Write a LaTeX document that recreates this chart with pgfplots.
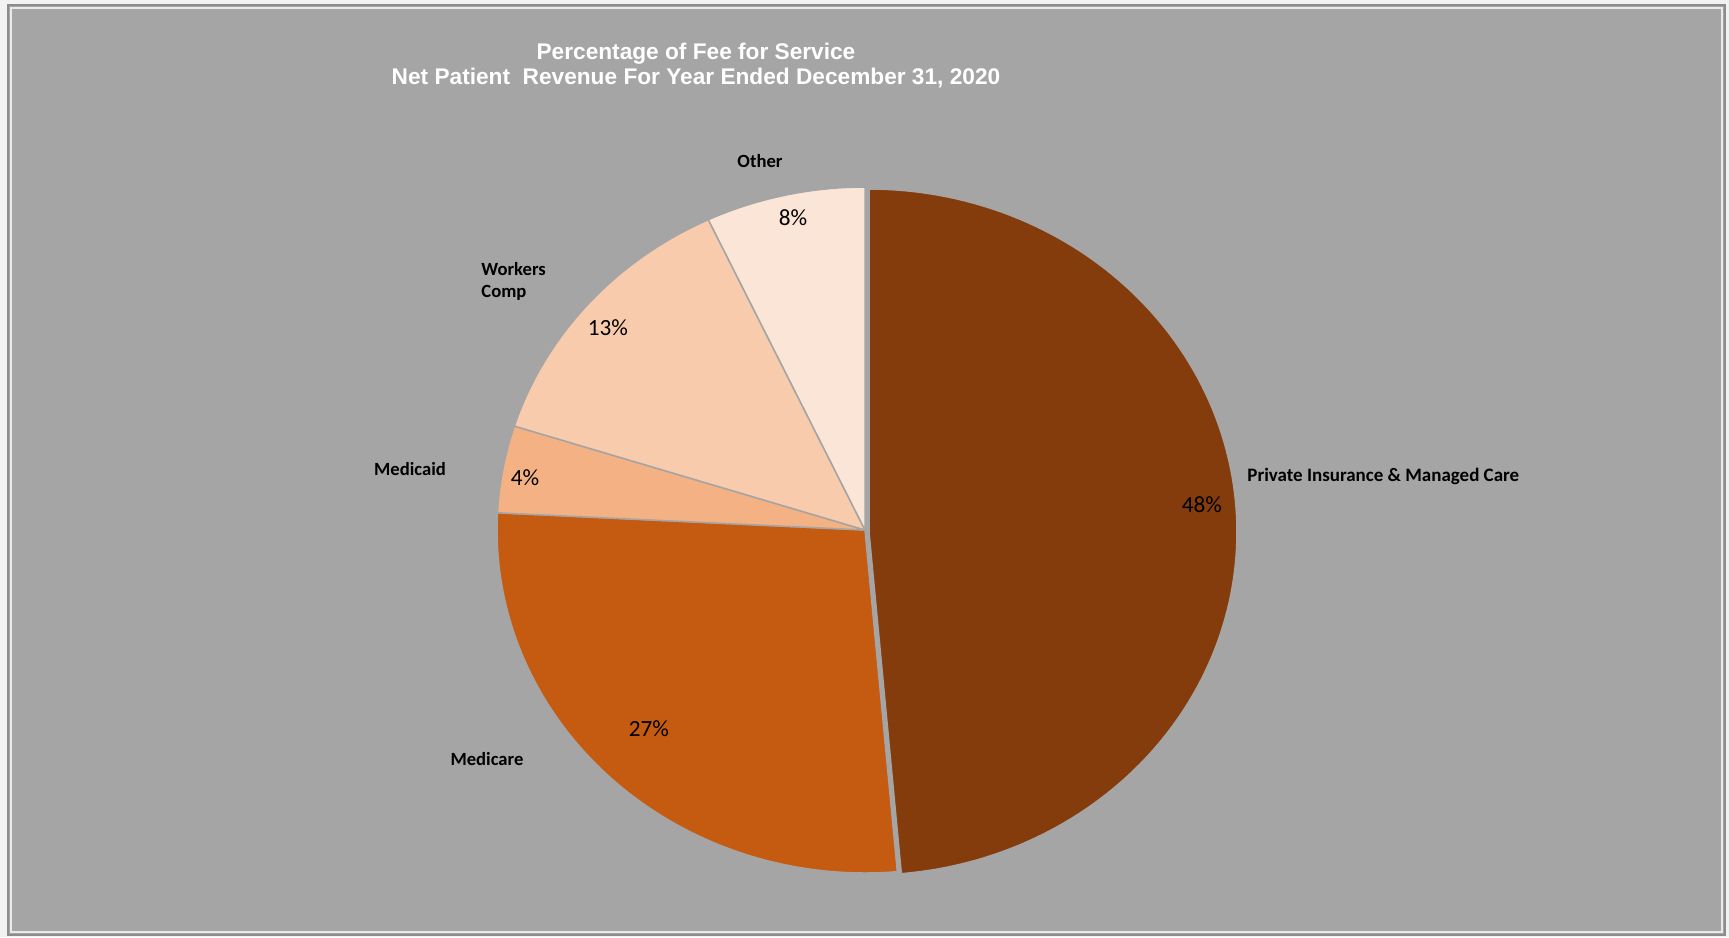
\documentclass[border=0pt]{standalone}
\usepackage{pgfplots}
\pgfplotsset{compat=1.18}
\usepackage{pgfplotstable}
\usepackage{fontspec}
\setmainfont{Carlito}
\newfontfamily\titlefont{Liberation Sans}
\definecolor{bg}{HTML}{A5A5A5}
\definecolor{outer}{HTML}{F2F2F2}
\definecolor{frame}{HTML}{8C8C8C}
\definecolor{cPriv}{HTML}{843C0C}
\definecolor{cMcare}{HTML}{C55A11}
\definecolor{cMcaid}{HTML}{F4B183}
\definecolor{cWork}{HTML}{F8CBAD}
\definecolor{cOther}{HTML}{FBE5D6}

\pgfplotstableread{
label value
Private 48.6
Medicare 27.2
Medicaid 4.1
Workers 13.1
Other 7.0
}\piedata
\pgfplotstablegetelem{0}{value}\of\piedata \let\vA\pgfplotsretval
\pgfplotstablegetelem{1}{value}\of\piedata \let\vB\pgfplotsretval
\pgfplotstablegetelem{2}{value}\of\piedata \let\vC\pgfplotsretval
\pgfplotstablegetelem{3}{value}\of\piedata \let\vD\pgfplotsretval
\pgfplotstablegetelem{4}{value}\of\piedata \let\vE\pgfplotsretval
\pgfmathsetmacro\aA{90}
\pgfmathsetmacro\aB{\aA-3.6*\vA}
\pgfmathsetmacro\aC{\aB-3.6*\vB}
\pgfmathsetmacro\aD{\aC-3.6*\vC}
\pgfmathsetmacro\aE{\aD-3.6*\vD}
\pgfmathsetmacro\aF{\aE-3.6*\vE}
\def\cx{865}\def\cy{530}\def\rx{368}\def\ry{343}
\def\ex{4}\def\ey{2}
\pgfmathsetmacro\pcx{\cx+\ex}
\pgfmathsetmacro\pcy{\cy+\ey}

\begin{document}
\begin{tikzpicture}
\begin{axis}[
  width=17.29cm, height=9.37cm, scale only axis,
  xmin=0, xmax=1729, ymin=0, ymax=937, y dir=reverse,
  hide axis, clip=false,
]
\fill[outer] (0,0) rectangle (1729,937);
\fill[bg, draw=frame, line width=0.02cm] (8,5) rectangle (1725,935);
\draw[white!75!bg, line width=0.02cm] (11,8) rectangle (1722,932);

% slices
\addplot[fill=cPriv, draw=bg, line width=0.015cm, domain=\aB:\aA, samples=150, variable=\t]
  ({\pcx+\rx*cos(t)}, {\pcy-\ry*sin(t)}) -- (\pcx,\pcy) -- cycle;
\addplot[fill=cMcare, draw=bg, line width=0.015cm, domain=\aC:\aB, samples=100, variable=\t]
  ({\cx+\rx*cos(t)}, {\cy-\ry*sin(t)}) -- (\cx,\cy) -- cycle;
\addplot[fill=cMcaid, draw=bg, line width=0.015cm, domain=\aD:\aC, samples=30, variable=\t]
  ({\cx+\rx*cos(t)}, {\cy-\ry*sin(t)}) -- (\cx,\cy) -- cycle;
\addplot[fill=cWork, draw=bg, line width=0.015cm, domain=\aE:\aD, samples=60, variable=\t]
  ({\cx+\rx*cos(t)}, {\cy-\ry*sin(t)}) -- (\cx,\cy) -- cycle;
\addplot[fill=cOther, draw=bg, line width=0.015cm, domain=\aF:\aE, samples=40, variable=\t]
  ({\cx+\rx*cos(t)}, {\cy-\ry*sin(t)}) -- (\cx,\cy) -- cycle;

% title
\node[text=white, font=\titlefont\bfseries\fontsize{6.45pt}{7.5pt}\selectfont] at (696,54) {Percentage of Fee for Service};
\node[text=white, font=\titlefont\bfseries\fontsize{6.45pt}{7.5pt}\selectfont] at (696,78.5) {Net Patient\ \ Revenue For Year Ended December 31, 2020};

% category labels
\node[font=\bfseries\fontsize{5.3pt}{6.3pt}\selectfont] at (760,161) {Other};
\node[font=\bfseries\fontsize{5.3pt}{6.3pt}\selectfont, align=left, anchor=west] at (469,281) {Workers\\Comp};
\node[font=\bfseries\fontsize{5.3pt}{6.3pt}\selectfont] at (410,469) {Medicaid};
\node[font=\bfseries\fontsize{5.4pt}{6.4pt}\selectfont, anchor=west] at (1235,476) {Private Insurance \& Managed Care};
\node[font=\bfseries\fontsize{5.3pt}{6.3pt}\selectfont] at (487,759) {Medicare};

% percent labels
\node[font=\fontsize{6.6pt}{8pt}\selectfont] at (793,218) {8\%};
\node[font=\fontsize{6.6pt}{8pt}\selectfont] at (608,328) {13\%};
\node[font=\fontsize{6.6pt}{8pt}\selectfont] at (525,478) {4\%};
\node[font=\fontsize{6.6pt}{8pt}\selectfont] at (1202,505) {48\%};
\node[font=\fontsize{6.6pt}{8pt}\selectfont] at (649,729) {27\%};
\end{axis}
\end{tikzpicture}
\end{document}
